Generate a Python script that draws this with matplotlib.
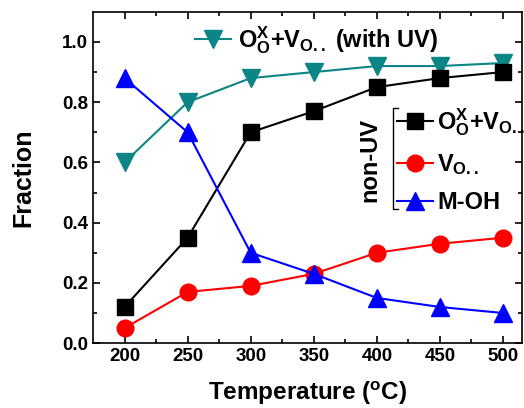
import matplotlib
matplotlib.use("Agg")
from matplotlib import pyplot as plt

plt.rcParams['font.family'] = ['Liberation Sans', 'DejaVu Sans']
plt.rcParams['font.weight'] = 'bold'
plt.rcParams['mathtext.fontset'] = 'custom'
plt.rcParams['mathtext.rm'] = 'Liberation Sans:bold'
plt.rcParams['mathtext.it'] = 'Liberation Sans:bold'
plt.rcParams['mathtext.bf'] = 'Liberation Sans:bold'

temps = [200, 250, 300, 350, 400, 450, 500]
ox_vo = [0.12, 0.35, 0.70, 0.77, 0.85, 0.88, 0.90]
vo = [0.05, 0.17, 0.19, 0.23, 0.30, 0.33, 0.35]
moh = [0.88, 0.70, 0.30, 0.23, 0.15, 0.12, 0.10]
ox_vo_uv = [0.60, 0.80, 0.88, 0.90, 0.92, 0.92, 0.93]

lab_ox = r'$\mathrm{O_O^X}$+V$_\mathrm{O..}$'
lab_vo = r'V$_\mathrm{O..}$'
lab_moh = 'M-OH'
lab_uv = r'$\mathrm{O_O^X}$+V$_\mathrm{O..}$ (with UV)'

fig = plt.figure(figsize=(5.24, 4.08), dpi=100)
ax = fig.add_axes([0.1775, 0.159, 0.8185, 0.812])

teal = '#0b8585'
l_uv, = ax.plot(temps, ox_vo_uv, color=teal, marker='v', ms=13.5, lw=1.5)
l_ox, = ax.plot(temps, ox_vo, color='black', marker='s', ms=11, lw=1.5)
l_vo, = ax.plot(temps, vo, color='red', marker='o', ms=12, lw=1.5)
l_moh, = ax.plot(temps, moh, color='blue', marker='^', ms=13.5, lw=1.5)

ax.set_xlim(175, 515)
ax.set_ylim(0, 1.1)
ax.set_xticks(temps)
ax.set_xticks([225, 275, 325, 375, 425, 475], minor=True)
ax.set_yticks([0.0, 0.2, 0.4, 0.6, 0.8, 1.0])
ax.set_yticks([0.1, 0.3, 0.5, 0.7, 0.9], minor=True)
ax.tick_params(which='both', direction='in', top=True, right=True, labelsize=13.5, width=1.2)
ax.tick_params(which='major', length=5)
ax.tick_params(which='minor', length=3)
for s in ax.spines.values():
    s.set_linewidth(1.2)

ax.set_xlabel('Temperature ($^\\mathrm{o}$C)', fontsize=17.5, fontweight='bold', labelpad=11)
ax.set_ylabel('Fraction', fontsize=18, fontweight='bold', labelpad=19)

leg1 = ax.legend([l_uv], [lab_uv], loc='center left', bbox_to_anchor=(0.238, 0.915),
                 frameon=False, fontsize=17, handlelength=1.5, handletextpad=0.3,
                 borderpad=0, borderaxespad=0)
ax.add_artist(leg1)
leg2 = ax.legend([l_ox, l_vo, l_moh], [lab_ox, lab_vo, lab_moh], loc='center left',
                 bbox_to_anchor=(0.709, 0.553), frameon=False, fontsize=17,
                 handlelength=1.5, handletextpad=0.2, labelspacing=0.6,
                 borderpad=0, borderaxespad=0)

# bracket and group label
bx = 0.699
ax.plot([bx + 0.012, bx, bx, bx + 0.012], [0.71, 0.71, 0.405, 0.405],
        transform=ax.transAxes, color='black', lw=1.0, clip_on=False)
ax.text(0.646, 0.553, 'non-UV', transform=ax.transAxes, rotation=90,
        fontsize=17, fontweight='bold', ha='center', va='center')

fig.savefig('out.png', dpi=100)
